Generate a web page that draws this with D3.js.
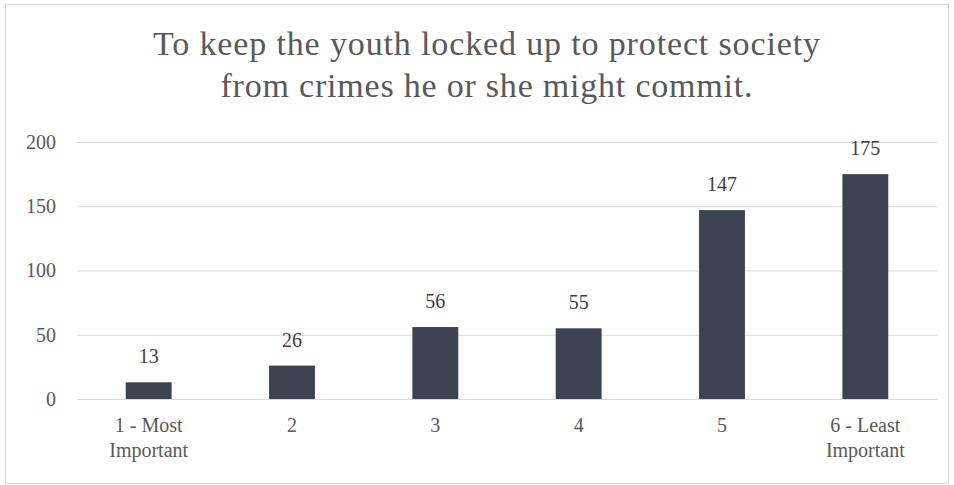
<!DOCTYPE html>
<html><head><meta charset="utf-8">
<script src="https://cdn.jsdelivr.net/npm/d3@7"></script>
<style>body{margin:0;background:#fff;} svg{display:block;}</style>
</head><body>
<svg id="c" width="954" height="485"></svg>
<script>
const categories = ["1 - Most|Important", "2", "3", "4", "5", "6 - Least|Important"];
const values = [13, 26, 56, 55, 147, 175];
const yTicks = [0, 50, 100, 150, 200];
const titleLines = ["To keep the youth locked up to protect society", "from crimes he or she might commit."];
const titleWidths = [667, 532];

const svg = d3.select("#c");
const font = "'Liberation Serif', 'DejaVu Serif', serif";
svg.append("rect").attr("x", 5.5).attr("y", 4.5).attr("width", 943).attr("height", 479)
  .attr("fill", "#fff").attr("stroke", "#d9d9d9");

const plot = {l: 77, r: 937, t: 142, b: 399};
const x = d3.scaleBand().domain(categories).range([plot.l, plot.r]).paddingInner(0.68).paddingOuter(0.34);
const y = d3.scaleLinear().domain([0, 200]).range([plot.b, plot.t]);

svg.append("g").selectAll("text").data(titleLines).join("text")
  .attr("x", 486.5).attr("y", (d, i) => 55 + i * 42)
  .attr("text-anchor", "middle").attr("font-family", font).attr("font-size", 34)
  .attr("textLength", (d, i) => titleWidths[i]).attr("lengthAdjust", "spacing")
  .attr("fill", "#595959").text(d => d);

const ga = svg.append("g").attr("transform", `translate(${plot.l},0)`)
  .call(d3.axisLeft(y).tickValues(yTicks).tickSize(-(plot.r - plot.l)).tickPadding(21));
ga.select(".domain").remove();
ga.selectAll(".tick line").attr("stroke", "#d9d9d9");
ga.selectAll(".tick text").attr("font-family", font).attr("font-size", 20).attr("fill", "#595959");

svg.append("g").selectAll("rect").data(values).join("rect")
  .attr("x", (d, i) => x(categories[i])).attr("width", x.bandwidth())
  .attr("y", d => y(d)).attr("height", d => y(0) - y(d)).attr("fill", "#3b4252");

svg.append("g").selectAll("text").data(values).join("text")
  .attr("x", (d, i) => x(categories[i]) + x.bandwidth() / 2).attr("y", d => y(d) - 19)
  .attr("text-anchor", "middle").attr("font-family", font).attr("font-size", 20)
  .attr("fill", "#404040").text(d => d);

const gx = svg.append("g").attr("transform", `translate(0,${plot.b})`)
  .call(d3.axisBottom(x).tickSize(0).tickFormat(""));
gx.select(".domain").attr("stroke", "#d9d9d9");
gx.selectAll(".tick").each(function(d) {
  const t = d3.select(this).append("text").attr("font-family", font).attr("font-size", 20)
    .attr("fill", "#595959").attr("text-anchor", "middle");
  d.split("|").forEach((line, i) => t.append("tspan").attr("x", 0).attr("y", 33 + i * 25).text(line));
});
</script>
</body></html>
